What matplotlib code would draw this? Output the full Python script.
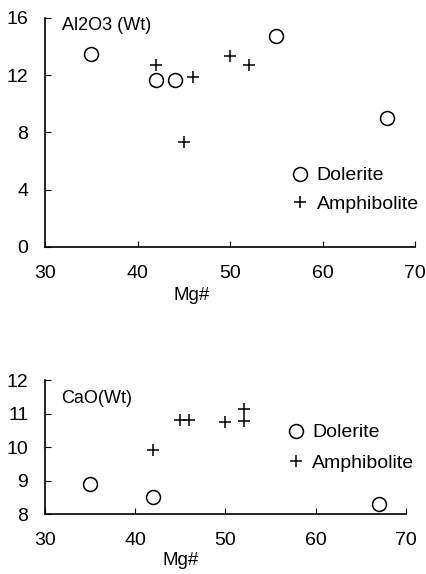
import matplotlib.pyplot as plt

plt.rcParams["font.family"] = ["Liberation Sans", "DejaVu Sans"]
plt.rcParams["font.size"] = 12

# Al2O3 panel
al_dol_mg = [35, 42, 44, 55, 67]
al_dol_val = [13.5, 11.7, 11.7, 14.75, 9.0]
al_amp_mg = [42, 46, 45, 50, 52]
al_amp_val = [12.7, 11.9, 7.35, 13.35, 12.7]

# CaO panel
ca_dol_mg = [35, 42, 67]
ca_dol_val = [8.9, 8.5, 8.3]
ca_amp_mg = [42, 45, 46, 50, 52, 52]
ca_amp_val = [9.9, 10.8, 10.8, 10.75, 11.15, 10.78]

xticks = [30, 40, 50, 60, 70]
al_yticks = [0, 4, 8, 12, 16]
ca_yticks = [8, 9, 10, 11, 12]

fig = plt.figure(figsize=(4.27, 5.74), dpi=100)
ax1 = fig.add_axes([0.1054, 0.5697, 0.8665, 0.399])
ax2 = fig.add_axes([0.1054, 0.1045, 0.8454, 0.2334])


def style(ax, yticks, ylab, lx, ly, legpos, spacing):
    for s in ["top", "right"]:
        ax.spines[s].set_visible(False)
    ax.spines["left"].set_linewidth(1.2)
    ax.spines["bottom"].set_linewidth(1.2)
    ax.set_xlim(30, 70)
    ax.set_xticks(xticks)
    ax.set_ylim(yticks[0], yticks[-1])
    ax.set_yticks(yticks)
    ax.tick_params(axis="x", direction="in", length=4, pad=13, labelsize=14)
    ax.tick_params(axis="y", direction="in", length=4, pad=12, labelsize=14)
    ax.text(lx, ly, ylab, transform=ax.transAxes, fontsize=13, va="center")
    ax.legend(loc="center left", bbox_to_anchor=legpos, frameon=False,
              fontsize=14, handlelength=0.8, handletextpad=0.45,
              borderpad=0, labelspacing=spacing, borderaxespad=0)


ax1.plot(al_dol_mg, al_dol_val, "o", mfc="none", mec="black", ms=10, mew=1.1,
         label="Dolerite")
ax1.plot(al_amp_mg, al_amp_val, "+", color="black", ms=8.5, mew=1.1,
         label="Amphibolite")
style(ax1, al_yticks, "Al2O3 (Wt)", 0.045, 0.965, (0.668, 0.25), 0.55)
ax1.set_xlabel("Mg#", fontsize=13.5, labelpad=0)
ax1.xaxis.set_label_coords(0.395, -0.175)

ax2.plot(ca_dol_mg, ca_dol_val, "o", mfc="none", mec="black", ms=10, mew=1.1,
         label="Dolerite")
ax2.plot(ca_amp_mg, ca_amp_val, "+", color="black", ms=8.5, mew=1.1,
         label="Amphibolite")
style(ax2, ca_yticks, "CaO(Wt)", 0.045, 0.86, (0.673, 0.495), 0.65)
ax2.set_xlabel("Mg#", fontsize=13.5, labelpad=0)
ax2.xaxis.set_label_coords(0.375, -0.28)

fig.savefig("out.png", dpi=100)
